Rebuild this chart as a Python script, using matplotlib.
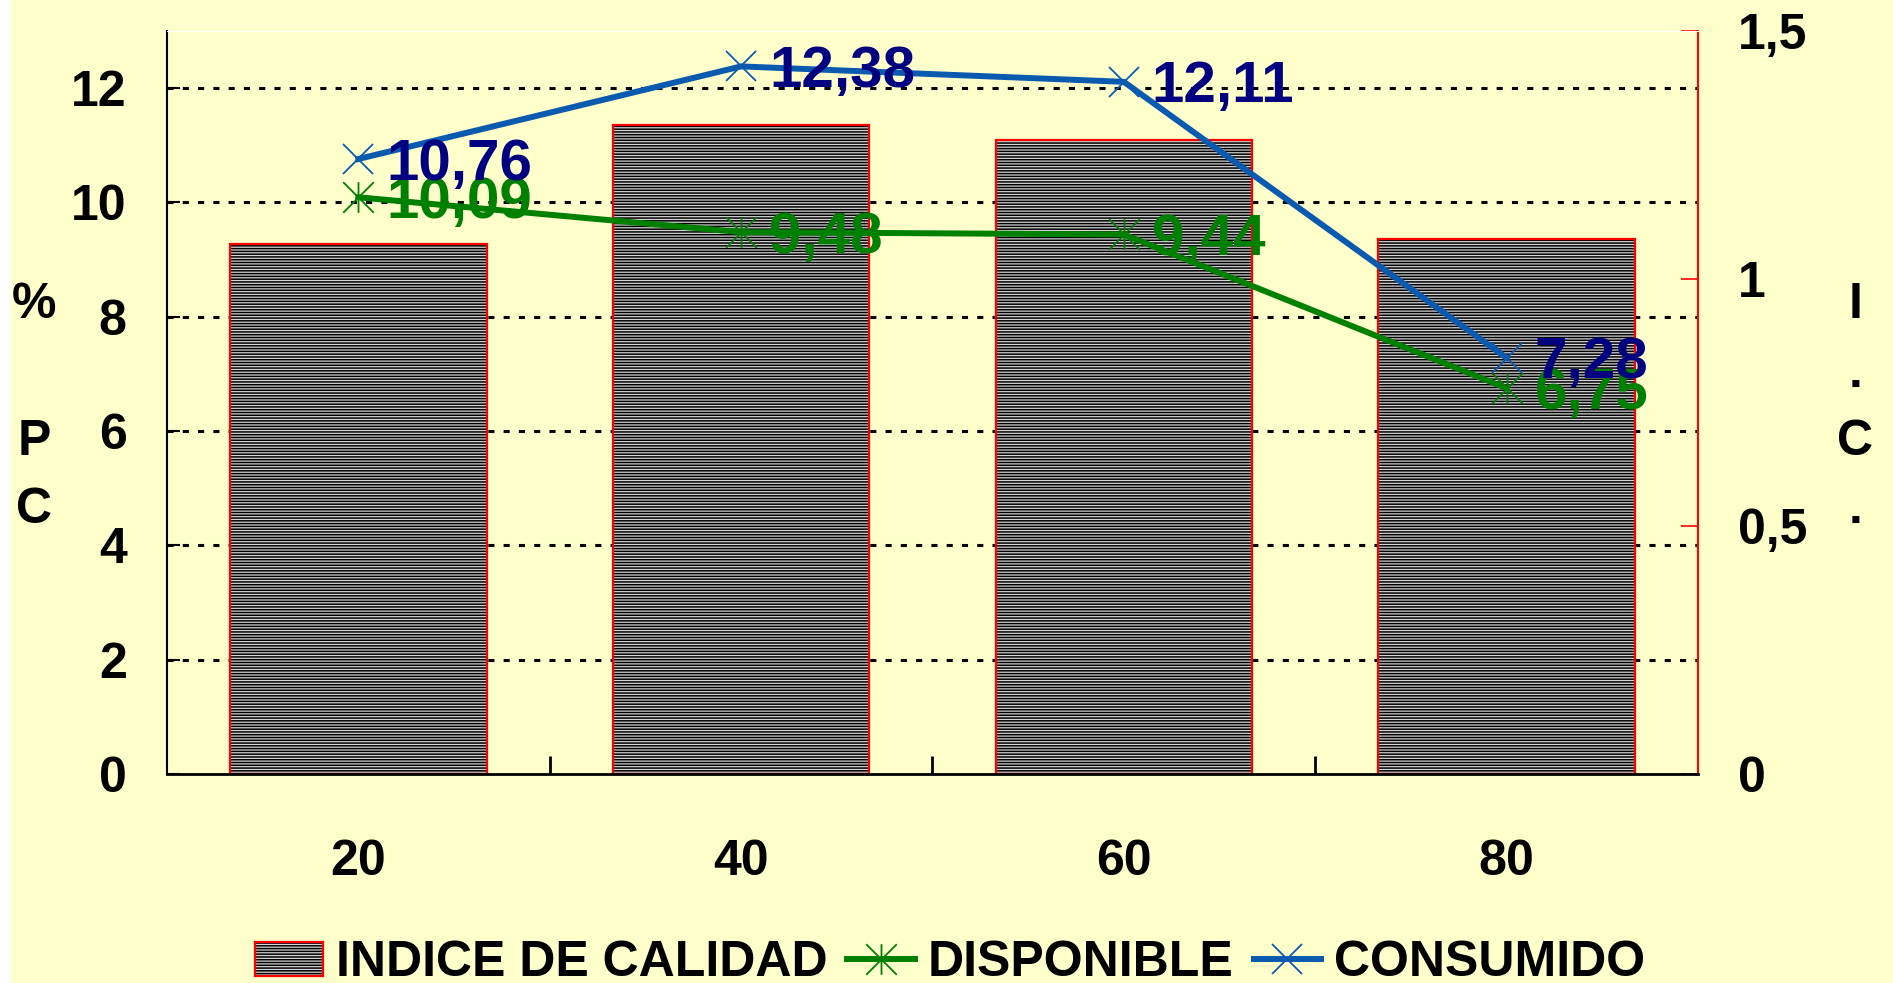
import numpy as np
import matplotlib
matplotlib.use("Agg")
import matplotlib.pyplot as plt
from matplotlib.path import Path
from matplotlib.patches import Rectangle
from matplotlib.ticker import FuncFormatter
from matplotlib.legend_handler import HandlerTuple

# data
categories = ["20", "40", "60", "80"]
indice_calidad = [1.07, 1.31, 1.28, 1.08]
disponible = [10.09, 9.48, 9.44, 6.75]
consumido = [10.76, 12.38, 12.11, 7.28]

BG = "#FFFFCC"
GREEN = "#008000"
BLUE = "#0A5AB0"
NAVY = "#000080"
FONT = ["Liberation Sans", "DejaVu Sans"]

plt.rcParams["font.family"] = FONT
plt.rcParams["font.weight"] = "bold"
plt.rcParams["hatch.linewidth"] = 1.1

# asterisk marker: X plus a vertical stroke
star = Path([(0, -1), (0, 1), (-1, -1), (1, 1), (-1, 1), (1, -1)],
            [Path.MOVETO, Path.LINETO, Path.MOVETO, Path.LINETO, Path.MOVETO, Path.LINETO])

fig = plt.figure(figsize=(18.93, 9.83), dpi=100, facecolor=BG)
fig.patches.append(Rectangle((0, 0), 11 / 1893, 1, transform=fig.transFigure,
                             facecolor="white", edgecolor="none"))
pos = [0.0882, 0.2126, 0.8088, 0.7559]
x = np.arange(len(categories))

# bottom layer: background + grid
axg = fig.add_axes(pos, zorder=0)
axg.set_facecolor(BG)
axg.set_xlim(-0.5, 3.5)
axg.set_ylim(0, 13)
for v in range(2, 13, 2):
    axg.axhline(v, color="black", lw=2.2, ls=(0, (2, 3)))
axg.axis("off")

# middle layer: bars on the right (I.C.) scale
ax2 = fig.add_axes(pos, zorder=1)
ax2.patch.set_visible(False)
ax2.bar(x, indice_calidad, width=0.67, color="#d4d4d4", edgecolor="black",
        hatch="------", linewidth=0)
ax2.bar(x, indice_calidad, width=0.67, color="none", edgecolor="red", linewidth=1.6)
ax2.set_xlim(-0.5, 3.5)
ax2.set_ylim(0, 1.5)
ax2.yaxis.tick_right()
ax2.set_yticks([0, 0.5, 1, 1.5])
ax2.yaxis.set_major_formatter(FuncFormatter(lambda v, p: f"{v:g}".replace(".", ",")))
ax2.tick_params(axis="y", direction="in", length=12, width=1.2, colors="red",
                labelcolor="black", labelsize=36, pad=29)
ax2.set_xticks([])
for s in ["left", "top", "bottom"]:
    ax2.spines[s].set_visible(False)
ax2.spines["right"].set_color("red")
ax2.spines["right"].set_linewidth(1.5)

# top layer: lines on the left (%PC) scale
ax = fig.add_axes(pos, zorder=2)
ax.patch.set_visible(False)
ln1, = ax.plot(x, disponible, color=GREEN, lw=4.3, marker=star, ms=22, mew=1.3,
               mec=GREEN)
ln2, = ax.plot(x, consumido, color=BLUE, lw=4.3, marker="x", ms=22, mew=1.3,
               mec=BLUE)
for xi, v in zip(x, disponible):
    ax.annotate(f"{v:.2f}".replace(".", ","), (xi, v), xytext=(20, -4),
                textcoords="offset points", ha="left", va="center",
                color=GREEN, fontsize=42, fontweight="bold")
for xi, v in zip(x, consumido):
    ax.annotate(f"{v:.2f}".replace(".", ","), (xi, v), xytext=(20, -4),
                textcoords="offset points", ha="left", va="center",
                color=NAVY, fontsize=42, fontweight="bold")
ax.set_xlim(-0.5, 3.5)
ax.set_ylim(0, 13)
ax.set_yticks(range(0, 13, 2))
ax.tick_params(axis="y", direction="in", length=9, width=1.5, labelsize=36, pad=29)
ax.set_xticks(x)
ax.set_xticklabels(categories)
ax.set_xticks([0.5, 1.5, 2.5], minor=True)
ax.tick_params(axis="x", which="major", length=0, labelsize=36, pad=47)
ax.tick_params(axis="x", which="minor", direction="in", length=13, width=2)
ax.spines["right"].set_visible(False)
ax.spines["top"].set_color("white")
ax.spines["left"].set_linewidth(1.5)
ax.spines["bottom"].set_linewidth(2)

fig.text(0.018, 0.585, "%\n\nP\nC", ha="center", va="center", fontsize=36,
         linespacing=1.62)
fig.text(0.980, 0.585, "I\n.\nC\n.", ha="center", va="center", fontsize=36,
         linespacing=1.62)

# legend: hatched box with red outline
hatch_box = Rectangle((0, 0), 1, 1, facecolor="#d4d4d4", edgecolor="black",
                      hatch="------", linewidth=0)
red_box = Rectangle((0, 0), 1, 1, facecolor="none", edgecolor="red", linewidth=1.6)
fig.legend([(hatch_box, red_box), ln1, ln2],
           ["INDICE DE CALIDAD", "DISPONIBLE", "CONSUMIDO"], loc="center",
           bbox_to_anchor=(0.502, 0.02), ncol=3, frameon=False, fontsize=36,
           handlelength=1.35, handleheight=0.66, handletextpad=0.26,
           columnspacing=0.4, borderpad=0,
           handler_map={tuple: HandlerTuple(ndivide=1, pad=0)})

fig.savefig("out.png", dpi=100, facecolor=BG)
